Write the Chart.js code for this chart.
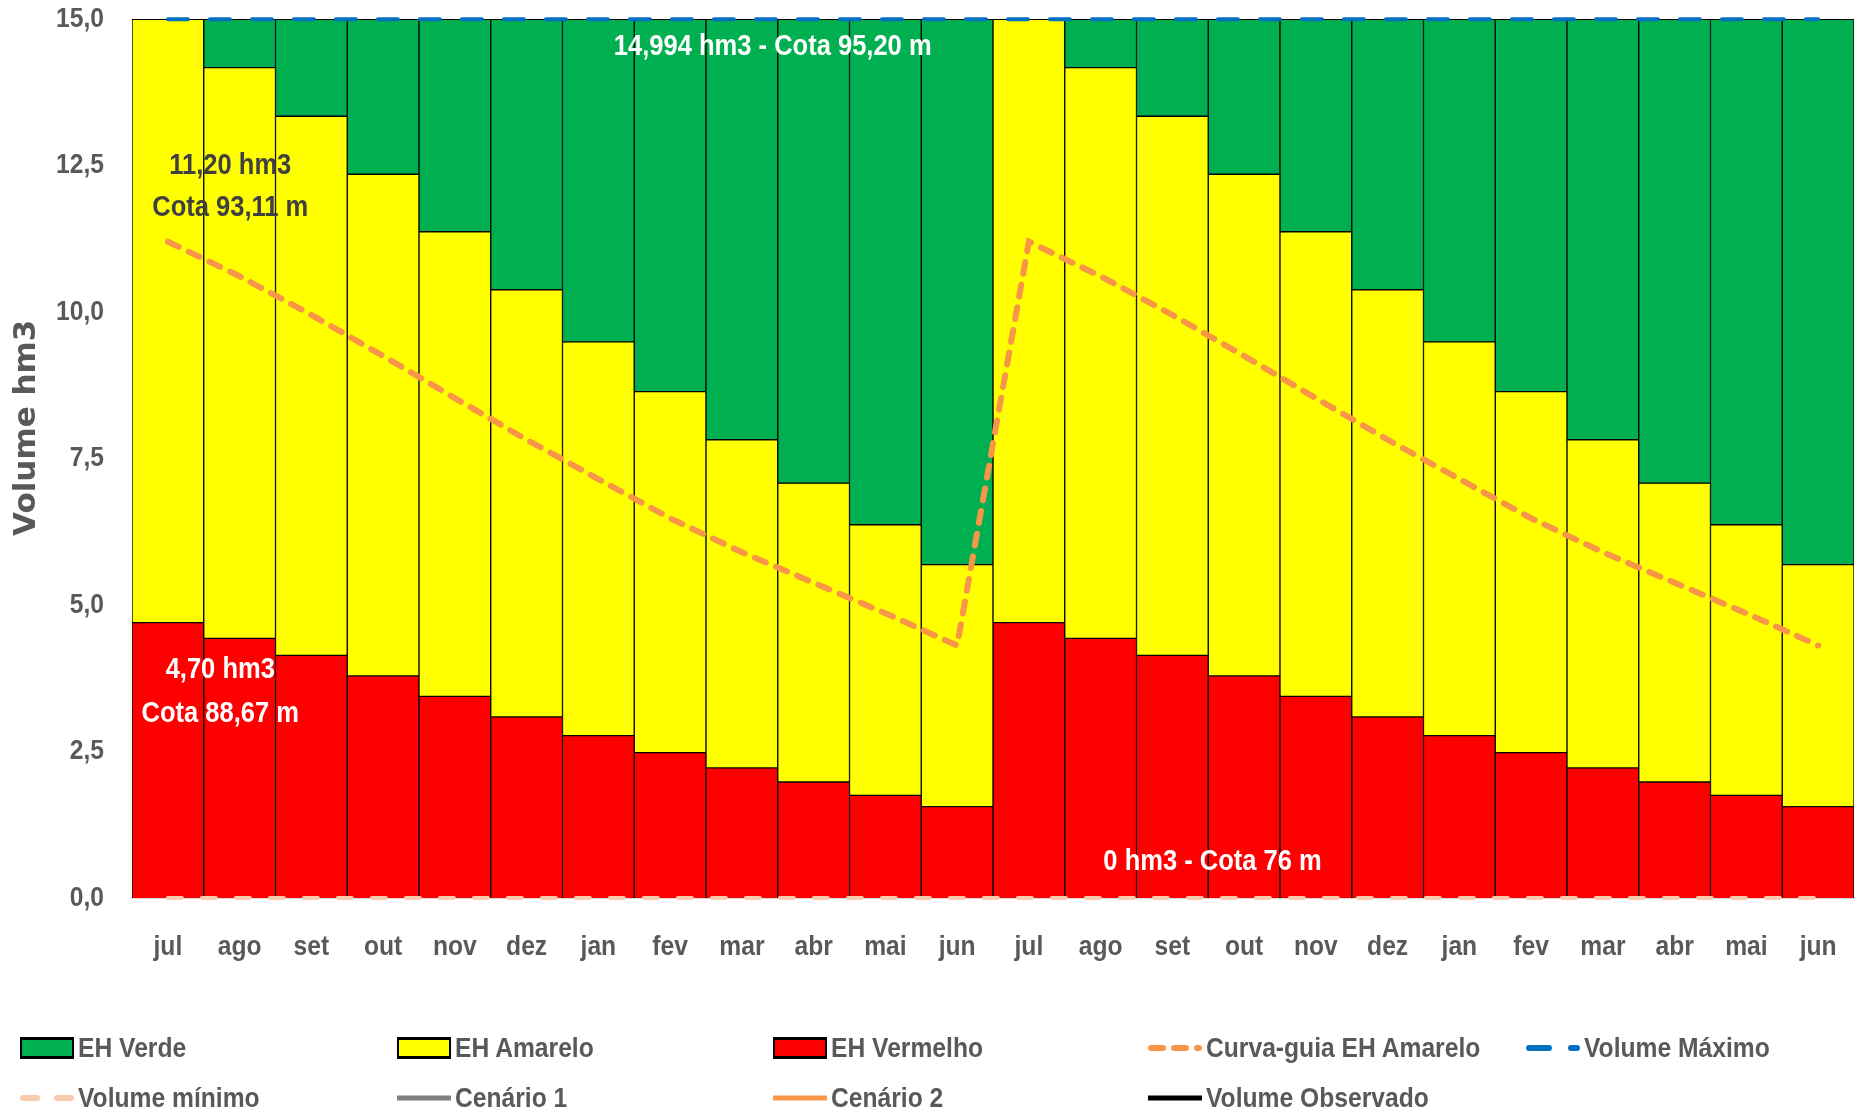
<!DOCTYPE html>
<html lang="pt">
<head>
<meta charset="utf-8">
<title>Volume hm3 - Curva-guia</title>
<script src="https://cdn.jsdelivr.net/npm/chart.js@4.4.1/dist/chart.umd.min.js"></script>
<style>
  html, body { margin: 0; padding: 0; background: #ffffff; }
  #wrap { position: relative; width: 1860px; height: 1114px; overflow: hidden; }
  #chart { position: absolute; left: 0; top: 0; }
  .legend-item {
    position: absolute; height: 34px; display: flex; align-items: center;
    font-family: 'Liberation Sans', Arial, sans-serif;
    font-weight: bold; font-size: 28px; color: #595959; white-space: nowrap;
  }
  .legend-item svg { margin-right: 4px; flex: none; }
  .legend-item span { display: inline-block; transform: scaleX(0.88); transform-origin: left center; }
</style>
</head>
<body>
<div id="wrap">
  <canvas id="chart" width="1860" height="1114"></canvas>
  <div id="legend"></div>
</div>
<script>
// Months of the hydrological year (jul..jun), shown for two consecutive years
const categories = ['jul','ago','set','out','nov','dez','jan','fev','mar','abr','mai','jun',
                    'jul','ago','set','out','nov','dez','jan','fev','mar','abr','mai','jun'];

// Upper limit of the red band (EH Vermelho), hm3
const redLimit = [4.70, 4.43, 4.14, 3.79, 3.44, 3.09, 2.77, 2.48, 2.22, 1.98, 1.75, 1.56,
                  4.70, 4.43, 4.14, 3.79, 3.44, 3.09, 2.77, 2.48, 2.22, 1.98, 1.75, 1.56];

// Upper limit of the yellow band (EH Amarelo), hm3
const yellowLimit = [14.994, 14.17, 13.34, 12.35, 11.37, 10.38, 9.49, 8.64, 7.82, 7.08, 6.37, 5.69,
                     14.994, 14.17, 13.34, 12.35, 11.37, 10.38, 9.49, 8.64, 7.82, 7.08, 6.37, 5.69];

// Guide curve for the yellow state, hm3
const curvaGuia = [11.20, 10.61, 9.95, 9.25, 8.53, 7.82, 7.15, 6.48, 5.90, 5.38, 4.86, 4.31,
                   11.20, 10.61, 9.95, 9.25, 8.53, 7.82, 7.15, 6.48, 5.90, 5.38, 4.86, 4.31];

// Maximum and minimum reservoir volume, hm3
const volumeMaximo = [14.994, 14.994, 14.994, 14.994, 14.994, 14.994, 14.994, 14.994, 14.994, 14.994, 14.994, 14.994,
                      14.994, 14.994, 14.994, 14.994, 14.994, 14.994, 14.994, 14.994, 14.994, 14.994, 14.994, 14.994];
const volumeMinimo = [0, 0, 0, 0, 0, 0, 0, 0, 0, 0, 0, 0,
                      0, 0, 0, 0, 0, 0, 0, 0, 0, 0, 0, 0];

// Scenario series (no values yet)
const cenario1 = [];
const cenario2 = [];
const volumeObservado = [];

// Y axis ticks
const yTicks = [0, 2.5, 5, 7.5, 10, 12.5, 15];

// Reference labels: text, category position, value position, colour
const notes = [
  { text: '14,994 hm3 - Cota 95,20 m', x: 8.43, y: 14.53, color: '#ffffff' },
  { text: '11,20 hm3',                 x: 0.87, y: 12.50, color: '#404040' },
  { text: 'Cota 93,11 m',              x: 0.87, y: 11.78, color: '#404040' },
  { text: '4,70 hm3',                  x: 0.73, y: 3.89,  color: '#ffffff' },
  { text: 'Cota 88,67 m',              x: 0.73, y: 3.14,  color: '#ffffff' },
  { text: '0 hm3 - Cota 76 m',         x: 14.56, y: 0.62, color: '#ffffff' }
];

const FONT = "'Liberation Sans', Arial, sans-serif";
const GREY = '#595959';
const NARROW = 0.88;   // horizontal squeeze for the condensed label look

const barCommon = {
  type: 'bar', borderColor: '#000000', borderWidth: 1, borderSkipped: false,
  barPercentage: 1, categoryPercentage: 1, order: 10
};
const lineCommon = {
  type: 'line', pointRadius: 0, pointHoverRadius: 0, tension: 0, fill: false,
  borderCapStyle: 'round', clip: false, order: 1
};

const datasets = [
  Object.assign({}, barCommon, { label: 'EH Verde', backgroundColor: '#00B050',
    data: categories.map((_, i) => [yellowLimit[i], volumeMaximo[i]]) }),
  Object.assign({}, barCommon, { label: 'EH Amarelo', backgroundColor: '#FFFF00',
    data: categories.map((_, i) => [redLimit[i], yellowLimit[i]]) }),
  Object.assign({}, barCommon, { label: 'EH Vermelho', backgroundColor: '#FF0000', borderSkipped: 'start',
    data: categories.map((_, i) => [0, redLimit[i]]) }),
  Object.assign({}, lineCommon, { label: 'Curva-guia EH Amarelo', borderColor: '#F79646',
    borderWidth: 6, borderDash: [12, 11], data: curvaGuia }),
  Object.assign({}, lineCommon, { label: 'Volume Máximo', borderColor: '#0070C0',
    borderWidth: 4, borderDash: [20, 22], data: volumeMaximo }),
  Object.assign({}, lineCommon, { label: 'Volume mínimo', borderColor: '#F8CBAD',
    borderWidth: 4, borderDash: [14, 20], data: volumeMinimo }),
  Object.assign({}, lineCommon, { label: 'Cenário 1', borderColor: '#808080', borderWidth: 5, data: cenario1 }),
  Object.assign({}, lineCommon, { label: 'Cenário 2', borderColor: '#F79646', borderWidth: 5, data: cenario2 }),
  Object.assign({}, lineCommon, { label: 'Volume Observado', borderColor: '#000000', borderWidth: 5, data: volumeObservado })
];

function narrowText(ctx, text, x, y, align) {
  ctx.save();
  ctx.translate(x, y);
  ctx.scale(NARROW, 1);
  ctx.textAlign = align;
  ctx.fillText(text, 0, 0);
  ctx.restore();
}

// Tick labels, axis title and reference labels
const overlayPlugin = {
  id: 'overlay',
  afterDatasetsDraw(chart) {
    const { ctx, chartArea, scales } = chart;
    ctx.save();
    ctx.textBaseline = 'middle';

    ctx.font = 'bold 28px ' + FONT;
    ctx.fillStyle = GREY;
    scales.y.ticks.forEach(t => {
      narrowText(ctx, t.value.toFixed(1).replace('.', ','), chartArea.left - 28, scales.y.getPixelForValue(t.value), 'right');
    });
    categories.forEach((c, i) => {
      narrowText(ctx, c, scales.x.getPixelForValue(i), chartArea.bottom + 49, 'center');
    });

    ctx.font = 'bold 29px ' + FONT;
    notes.forEach(n => {
      ctx.fillStyle = n.color;
      narrowText(ctx, n.text, scales.x.getPixelForValue(n.x), scales.y.getPixelForValue(n.y), 'center');
    });

    // y axis title
    ctx.translate(27, chartArea.top + (chartArea.bottom - chartArea.top) * 0.465);
    ctx.rotate(-Math.PI / 2);
    ctx.textAlign = 'center';
    ctx.font = "bold 31px 'DejaVu Sans', sans-serif";
    ctx.fillStyle = GREY;
    ctx.fillText('Volume hm3', 0, 0);
    ctx.restore();
  }
};

const chart = new Chart(document.getElementById('chart'), {
  data: { labels: categories, datasets },
  options: {
    responsive: false,
    devicePixelRatio: 1,
    animation: false,
    layout: { padding: { left: 0, right: 6, top: 19, bottom: 0 } },
    plugins: { legend: { display: false }, tooltip: { enabled: false } },
    scales: {
      x: {
        stacked: true,
        offset: true,
        grid: { display: false, drawTicks: false },
        border: { display: true, color: '#D9D9D9', width: 2 },
        ticks: { display: false },
        afterFit(scale) { scale.height = 216; }
      },
      y: {
        stacked: false,
        min: 0, max: 15,
        afterBuildTicks(scale) { scale.ticks = yTicks.map(v => ({ value: v })); },
        grid: { display: false, drawTicks: false },
        border: { display: false },
        ticks: { display: false },
        afterFit(scale) { scale.width = 132; }
      }
    }
  },
  plugins: [overlayPlugin]
});

// Legend (two rows, five columns) built from the chart datasets
const legendCols = [20, 397, 773, 1148, 1526];
const legendRows = [1048, 1098];
function markerSvg(ds) {
  const w = 54, h = 24;
  if (ds.type === 'bar') {
    return `<svg width="${w}" height="${h}"><rect x="1" y="2" width="${w - 2}" height="${h - 4}" fill="${ds.backgroundColor}" stroke="#000" stroke-width="2"/>` +
           `<rect x="0" y="1" width="${w}" height="3" fill="#000"/><rect x="0" y="${h - 4}" width="${w}" height="3" fill="#000"/></svg>`;
  }
  const dash = ds.borderDash ? ds.borderDash.join(' ') : 'none';
  const cap = ds.borderDash ? 'round' : 'butt';
  const x0 = ds.borderDash ? 3 : 0, x1 = ds.borderDash ? w - 3 : w;
  return `<svg width="${w}" height="${h}"><line x1="${x0}" y1="${h / 2}" x2="${x1}" y2="${h / 2}" stroke="${ds.borderColor}" stroke-width="${ds.borderDash ? 6 : 5}" stroke-dasharray="${dash}" stroke-linecap="${cap}"/></svg>`;
}
const legendEl = document.getElementById('legend');
chart.data.datasets.forEach((ds, i) => {
  const item = document.createElement('div');
  item.className = 'legend-item';
  item.style.left = legendCols[i % 5] + 'px';
  item.style.top = (legendRows[Math.floor(i / 5)] - 17) + 'px';
  item.innerHTML = markerSvg(ds) + '<span>' + ds.label + '</span>';
  legendEl.appendChild(item);
});
</script>
</body>
</html>
